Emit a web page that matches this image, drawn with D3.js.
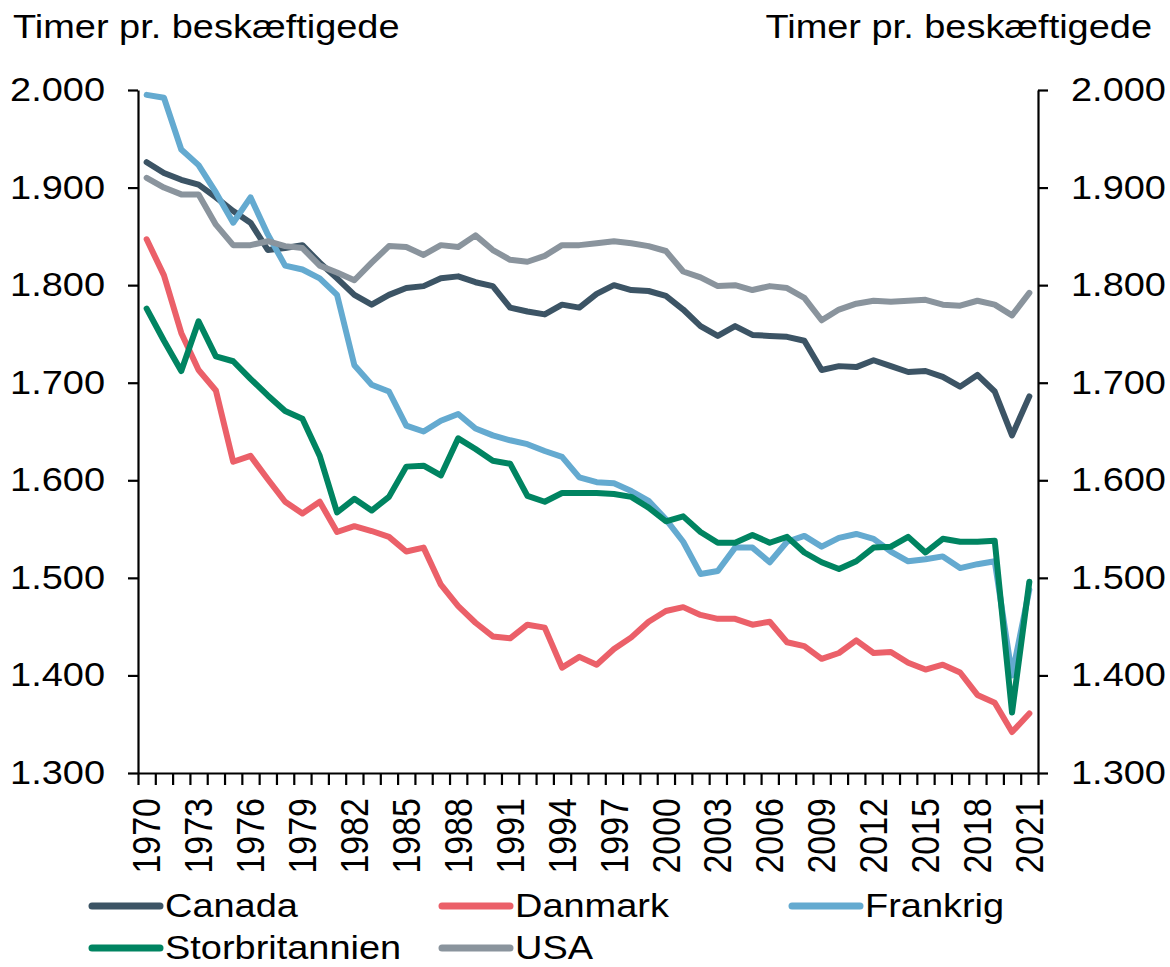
<!DOCTYPE html>
<html>
<head>
<meta charset="utf-8">
<script src="https://cdn.jsdelivr.net/npm/d3@7"></script>
<style>
  body { margin: 0; background: #fff; }
  text { font-family: "Liberation Sans", Arial, sans-serif; fill: #000; }
</style>
</head>
<body>
<div id="chart"></div>
<script>
// Data (hours per employed person)
const years = d3.range(1970, 2022);
const tickLabels = ['1970','1973','1976','1979','1982','1985','1988','1991','1994','1997','2000','2003','2006','2009','2012','2015','2018','2021'];
const yTicks = [1300, 1400, 1500, 1600, 1700, 1800, 1900, 2000];
const seriesNames = ['Canada', 'Danmark', 'Frankrig', 'Storbritannien', 'USA'];

const canada = [1926,1915,1908,1903,1890,1876,1864,1836,1838,1841,1823,1807,1790,1780,1790,1797,1799,1807,1809,1803,1799,1777,1773,1770,1780,1777,1791,1800,1795,1794,1789,1775,1758,1748,1758,1749,1748,1747,1743,1713,1717,1716,1723,1717,1711,1712,1706,1696,1708,1691,1646,1686];
const danmark = [1847,1810,1751,1713,1692,1619,1625,1601,1578,1566,1578,1547,1553,1548,1542,1527,1531,1493,1471,1454,1440,1438,1452,1449,1408,1419,1411,1427,1439,1455,1466,1470,1462,1458,1458,1452,1455,1434,1430,1417,1423,1436,1423,1424,1413,1406,1411,1403,1380,1372,1342,1361];
const frankrig = [1995,1992,1939,1923,1895,1864,1890,1852,1820,1816,1807,1790,1718,1698,1691,1656,1650,1661,1668,1653,1646,1641,1637,1630,1624,1603,1598,1597,1589,1579,1560,1537,1504,1507,1531,1531,1516,1537,1543,1532,1541,1545,1540,1527,1517,1519,1522,1510,1514,1517,1400,1488];
const storbritannien = [1776,1743,1712,1763,1727,1722,1704,1687,1671,1663,1625,1567,1581,1569,1583,1614,1615,1605,1643,1632,1620,1617,1584,1578,1587,1587,1587,1586,1583,1572,1558,1563,1547,1536,1536,1544,1536,1542,1526,1516,1509,1517,1531,1532,1542,1526,1540,1537,1537,1538,1362,1496];
const usa = [1910,1900,1893,1893,1862,1841,1841,1845,1840,1838,1820,1813,1805,1823,1840,1839,1831,1841,1839,1851,1836,1826,1824,1830,1841,1841,1843,1845,1843,1840,1835,1814,1808,1799,1800,1795,1799,1797,1787,1764,1775,1781,1784,1783,1784,1785,1780,1779,1784,1780,1769,1792];

const seriesValues = [canada, danmark, frankrig, storbritannien, usa];
const colors = ['#3c5465', '#eb6069', '#64aad0', '#008461', '#8a949d'];

const W = 1170, H = 967;
const plotLeft = 138, plotRight = 1038, plotTop = 90, plotBottom = 773;
const stretch = 1.15; // text in the original is a bit wider than Arial
const fs = 33;

const svg = d3.select('#chart').append('svg')
  .attr('width', W)
  .attr('height', H);

// scales
const x = d3.scaleBand().domain(years).range([plotLeft, plotRight]).padding(0);
const xEdge = d3.scaleLinear().domain([0, years.length]).range([plotLeft, plotRight]);
const y = d3.scaleLinear().domain([1300, 2000]).range([plotBottom, plotTop]);

const fmt = d3.formatLocale({ decimal: ',', thousands: '.', grouping: [3], currency: ['', ' kr.'] }).format(',');

// left axis
const gl = svg.append('g')
  .attr('transform', `translate(${plotLeft},0)`)
  .call(d3.axisLeft(y).tickValues(yTicks).tickSize(10).tickSizeOuter(0).tickFormat(fmt));
gl.selectAll('text')
  .attr('x', 0)
  .attr('transform', `translate(-33,0) scale(${stretch},1)`);

// right axis
const gr = svg.append('g')
  .attr('transform', `translate(${plotRight},0)`)
  .call(d3.axisRight(y).tickValues(yTicks).tickSize(10).tickSizeOuter(0).tickFormat(fmt));
gr.selectAll('text')
  .attr('x', 0)
  .attr('transform', `translate(33,0) scale(${stretch},1)`);

// bottom axis, ticks on category edges
svg.append('g')
  .attr('transform', `translate(0,${plotBottom})`)
  .call(d3.axisBottom(xEdge).tickValues(d3.range(0, years.length + 1)).tickSize(12).tickSizeOuter(0).tickFormat(''));

svg.selectAll('.domain, .tick line')
  .attr('stroke', '#000')
  .attr('stroke-width', 2.2);
svg.selectAll('.tick text')
  .attr('font-size', fs)
  .attr('font-family', '"Liberation Sans", Arial, sans-serif');

// year labels, rotated
svg.append('g').selectAll('text')
  .data(tickLabels)
  .enter()
  .append('text')
  .attr('transform', d => `translate(${x(+d) + x.bandwidth() / 2},${plotBottom + 25}) scale(${stretch},1) rotate(-90)`)
  .attr('text-anchor', 'end')
  .attr('dy', '0.35em')
  .attr('font-size', 34)
  .text(d => d);

// axis titles
svg.append('text')
  .attr('transform', `translate(13,38) scale(${stretch},1)`)
  .attr('font-size', fs)
  .text('Timer pr. beskæftigede');
svg.append('text')
  .attr('transform', `translate(1152,38) scale(${stretch},1)`)
  .attr('text-anchor', 'end')
  .attr('font-size', fs)
  .text('Timer pr. beskæftigede');

// lines
const line = d3.line()
  .x((d, i) => x(years[i]) + x.bandwidth() / 2)
  .y(d => y(d));

svg.append('g').selectAll('path')
  .data(seriesValues)
  .enter()
  .append('path')
  .attr('d', line)
  .attr('fill', 'none')
  .attr('stroke', (d, i) => colors[i])
  .attr('stroke-width', 6)
  .attr('stroke-linejoin', 'round')
  .attr('stroke-linecap', 'round');

// legend: 3 columns, 2 rows
const legend = svg.append('g').selectAll('g')
  .data(seriesNames)
  .enter()
  .append('g')
  .attr('transform', (d, i) => `translate(${92 + (i % 3) * 350},${906 + Math.floor(i / 3) * 42})`);

legend.append('line')
  .attr('x1', 0).attr('x2', 68)
  .attr('stroke', (d, i) => colors[i])
  .attr('stroke-width', 7)
  .attr('stroke-linecap', 'round');

legend.append('text')
  .attr('transform', `translate(73,11) scale(${stretch},1)`)
  .attr('font-size', fs)
  .text(d => d);
</script>
</body>
</html>
